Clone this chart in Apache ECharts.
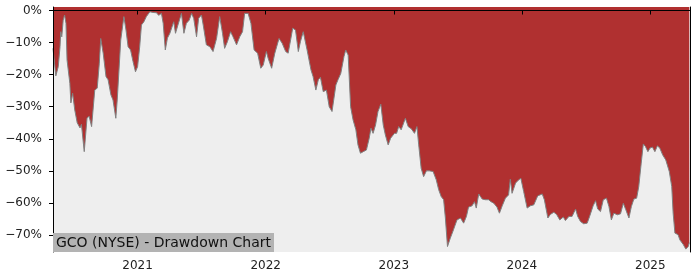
<!DOCTYPE html>
<html lang="en">
<head>
<meta charset="utf-8">
<title>GCO (NYSE) - Drawdown Chart</title>
<script src="https://cdn.jsdelivr.net/npm/echarts@6/dist/echarts.min.js"></script>
<style>
  html, body { margin: 0; padding: 0; background: #fff; }
  #chart { width: 700px; height: 280px; }
</style>
</head>
<body>
<div id="chart"></div>
<script>
// drawdown from running peak, in %
var dates = [
  '2020-05-05','2020-05-13','2020-05-20','2020-05-25','2020-05-27','2020-05-30','2020-06-03','2020-06-07',
  '2020-06-11','2020-06-14','2020-06-22','2020-06-25','2020-06-30','2020-07-06','2020-07-13','2020-07-21',
  '2020-07-25','2020-08-02','2020-08-10','2020-08-16','2020-08-23','2020-09-01','2020-09-08','2020-09-14',
  '2020-09-18','2020-09-25','2020-10-03','2020-10-09','2020-10-17','2020-10-23','2020-10-31','2020-11-04',
  '2020-11-14','2020-11-23','2020-11-29','2020-12-05','2020-12-12','2020-12-19','2020-12-26',
  '2021-01-01','2021-01-07','2021-01-12','2021-01-19','2021-01-26','2021-02-05','2021-02-14','2021-02-24',
  '2021-03-02','2021-03-10','2021-03-15','2021-03-21','2021-03-27','2021-04-03','2021-04-08','2021-04-14',
  '2021-04-19','2021-04-26','2021-05-06','2021-05-13','2021-05-20','2021-05-28','2021-06-04','2021-06-10',
  '2021-06-18','2021-06-24','2021-07-02','2021-07-07','2021-07-16','2021-07-26','2021-08-04','2021-08-14',
  '2021-08-23','2021-08-31','2021-09-06','2021-09-14','2021-09-23','2021-09-30','2021-10-10','2021-10-19',
  '2021-10-27','2021-11-02','2021-11-12','2021-11-20','2021-11-29','2021-12-09','2021-12-18','2021-12-25',
  '2022-01-03','2022-01-08','2022-01-18','2022-01-27','2022-02-08','2022-02-17','2022-02-27','2022-03-06',
  '2022-03-13','2022-03-19','2022-03-27','2022-04-04','2022-04-10','2022-04-18','2022-04-29','2022-05-10',
  '2022-05-16','2022-05-24','2022-05-31','2022-06-06','2022-06-14','2022-06-23','2022-07-01','2022-07-09',
  '2022-07-20','2022-07-26','2022-08-03','2022-08-12','2022-08-17','2022-08-24','2022-08-31','2022-09-07',
  '2022-09-15','2022-09-21','2022-09-28','2022-10-06','2022-10-15','2022-10-23','2022-10-28','2022-11-03',
  '2022-11-10','2022-11-17','2022-11-25','2022-12-02','2022-12-08','2022-12-16','2022-12-23',
  '2023-01-03','2023-01-09','2023-01-15','2023-01-22','2023-01-29','2023-02-03','2023-02-11','2023-02-20',
  '2023-03-01','2023-03-08','2023-03-13','2023-03-20','2023-03-27','2023-04-04','2023-04-12','2023-04-23',
  '2023-05-02','2023-05-09','2023-05-16','2023-05-23','2023-05-28','2023-06-03','2023-06-11','2023-06-20',
  '2023-06-30','2023-07-10','2023-07-19','2023-07-27','2023-08-02','2023-08-12','2023-08-19','2023-08-24',
  '2023-08-31','2023-09-10','2023-09-19','2023-09-28','2023-10-05','2023-10-13','2023-10-22','2023-10-29',
  '2023-11-06','2023-11-15','2023-11-24','2023-11-29','2023-12-04','2023-12-14','2023-12-23','2023-12-29',
  '2024-01-06','2024-01-16','2024-01-25','2024-02-04','2024-02-15','2024-02-28','2024-03-05','2024-03-15',
  '2024-03-22','2024-04-01','2024-04-09','2024-04-18','2024-04-28','2024-05-04','2024-05-14','2024-05-23',
  '2024-06-02','2024-06-08','2024-06-16','2024-06-25','2024-07-05','2024-07-12','2024-07-22','2024-07-29',
  '2024-08-04','2024-08-12','2024-08-20','2024-08-29','2024-09-05','2024-09-12','2024-09-19','2024-09-29',
  '2024-10-08','2024-10-16','2024-10-23','2024-11-01','2024-11-08','2024-11-15','2024-11-23','2024-11-29',
  '2024-12-06','2024-12-12','2024-12-18','2024-12-25','2024-12-31',
  '2025-01-07','2025-01-14','2025-01-21','2025-01-28','2025-02-05','2025-02-14','2025-02-24','2025-03-03',
  '2025-03-07','2025-03-12','2025-03-21','2025-03-26','2025-04-05','2025-04-12','2025-04-19','2025-04-22'
];
var drawdown = [
  -11.8,-20.4,-17.5,-11.3,-6.6,-8.2,-3.0,-1.4,
  -4.0,-15.4,-22.7,-28.8,-25.8,-31.0,-35.0,-36.6,
  -35.5,-44.0,-33.5,-33.0,-36.2,-24.8,-24.2,-16.4,
  -8.7,-13.3,-20.6,-21.6,-26.3,-27.9,-33.6,-27.9,
  -9.2,-1.9,-6.1,-11.3,-12.3,-15.9,-19.1,
  -17.5,-11.3,-4.5,-3.5,-1.9,-0.4,-0.6,-0.7,
  -1.5,-0.9,-4.0,-12.3,-8.6,-7.1,-7.5,-3.5,
  -7.1,-4.5,-0.9,-7.1,-4.0,-3.0,-0.9,-2.5,
  -8.2,-2.4,-1.4,-4.5,-10.7,-11.3,-12.8,-8.7,
  -1.9,-7.1,-11.8,-9.7,-6.6,-8.2,-10.7,-8.2,
  -6.6,-0.9,-0.9,-4.0,-12.3,-13.3,-18.0,-17.0,
  -12.8,-14.9,-18.0,-13.3,-8.7,-10.2,-12.8,-13.3,
  -9.2,-5.5,-6.1,-12.8,-9.7,-6.6,-12.3,-18.5,
  -20.6,-24.8,-21.6,-20.8,-25.3,-24.8,-30.0,-31.5,
  -23.2,-21.6,-19.6,-14.4,-12.3,-13.9,-30.0,-34.1,
  -37.2,-41.9,-44.5,-44.0,-43.5,-39.8,-36.7,-38.3,
  -35.7,-31.5,-29.2,-35.7,-38.8,-41.9,-39.8,
  -38.3,-38.3,-36.2,-37.2,-35.1,-33.6,-36.2,-36.9,
  -38.3,-36.2,-41.9,-49.2,-51.8,-50.0,-50.0,-50.2,
  -52.8,-55.9,-58.0,-59.0,-64.7,-73.6,-71.0,-68.4,
  -65.3,-64.7,-66.3,-64.2,-61.3,-60.9,-59.6,-61.6,
  -57.2,-58.8,-59.0,-59.0,-59.6,-60.1,-61.3,-63.2,
  -60.9,-58.5,-57.5,-52.6,-57.0,-53.8,-52.8,-52.3,
  -56.4,-61.6,-60.9,-60.6,-57.8,-57.2,-59.0,-64.7,
  -63.6,-62.9,-63.6,-65.3,-64.4,-65.5,-64.2,-64.2,
  -61.9,-64.2,-65.8,-66.5,-66.3,-64.2,-60.9,-59.3,
  -61.9,-62.7,-59.0,-58.5,-61.1,-65.3,-63.2,-63.7,
  -63.4,-60.1,-62.1,-64.7,-61.1,-58.8,-58.5,-54.9,
  -47.6,-41.6,-42.4,-44.0,-42.9,
  -42.6,-44.0,-42.2,-42.9,-45.0,-46.6,-50.2,-54.9,
  -63.2,-69.4,-69.9,-71.5,-73.0,-74.4,-73.6,-72.4
];
var yTicks = [0, -10, -20, -30, -40, -50, -60, -70];
var xTickYears = [2021, 2022, 2023, 2024, 2025];
var chartTitle = 'GCO (NYSE) - Drawdown Chart';

var font = 'DejaVu Sans';
var chart = echarts.init(document.getElementById('chart'), null, { renderer: 'canvas' });

// x is a plain value axis of timestamps so the year ticks can be placed exactly
function ts(s) {
  var p = s.split('-');
  return Date.UTC(+p[0], +p[1] - 1, +p[2]);
}
var seriesData = dates.map(function (d, i) { return [ts(d), drawdown[i]]; });
var xMin = ts('2020-05-05');
var xMax = ts('2025-04-24');
var xTicks = xTickYears.map(function (y) { return Date.UTC(y, 0, 1); });

function pct(v) {
  return (v < 0 ? '\u2212' + Math.abs(v) : v) + '%';
}

var frameAxis = {
  show: true,
  axisLine: { show: true, lineStyle: { color: '#000', width: 1 } },
  axisTick: { show: false },
  axisLabel: { show: false },
  splitLine: { show: false },
  z: 10
};

chart.setOption({
  animation: false,
  backgroundColor: '#fff',
  title: {
    text: chartTitle,
    left: 53,
    top: 233,
    padding: [2, 3, 1, 3],
    backgroundColor: '#b3b3b3',
    textStyle: { fontFamily: font, fontSize: 14, fontWeight: 'normal', color: '#111', lineHeight: 16 },
    z: 20
  },
  grid: {
    left: 53, right: 10, top: 7, bottom: 28,
    show: true, backgroundColor: '#eeeeee', borderWidth: 0
  },
  xAxis: [{
    type: 'value',
    min: xMin,
    max: xMax,
    z: 10,
    axisLine: { show: true, lineStyle: { color: '#000', width: 1 } },
    axisTick: { show: true, length: 4, lineStyle: { color: '#000' }, customValues: xTicks },
    axisLabel: {
      customValues: xTicks,
      margin: 8,
      fontFamily: font, fontSize: 12, color: '#222',
      formatter: function (v) { return String(new Date(v).getUTCFullYear()); }
    },
    splitLine: { show: false }
  }, Object.assign({ type: 'value', position: 'top', min: xMin, max: xMax }, frameAxis)],
  yAxis: [{
    type: 'value',
    min: -75.3,
    max: 1.1,
    z: 10,
    axisLine: { show: true, lineStyle: { color: '#000', width: 1 } },
    axisTick: { show: true, length: 4, lineStyle: { color: '#000' }, customValues: yTicks },
    axisLabel: {
      customValues: yTicks,
      margin: 11,
      fontFamily: font, fontSize: 12, color: '#222',
      formatter: pct
    },
    splitLine: { show: false }
  }, Object.assign({ type: 'value', position: 'right', min: -75.3, max: 1.1 }, frameAxis)],
  series: [{
    type: 'line',
    data: seriesData,
    showSymbol: false,
    symbol: 'none',
    lineStyle: { color: '#808080', width: 1 },
    areaStyle: { color: '#b03030', opacity: 1, origin: 'end' },
    z: 2
  }]
});
</script>
</body>
</html>
